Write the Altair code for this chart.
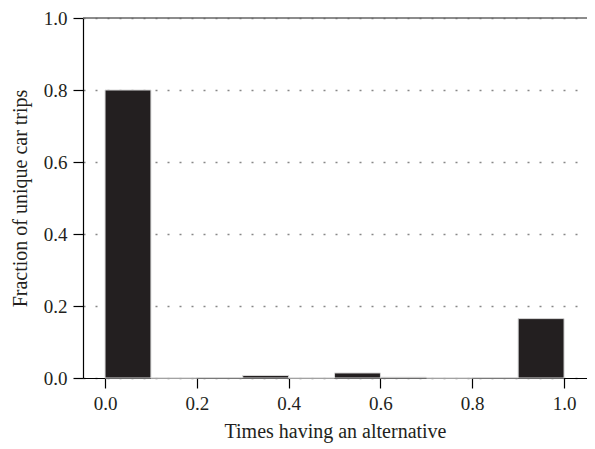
import altair as alt
import pandas as pd

bin_start = [0.0, 0.1, 0.2, 0.3, 0.4, 0.5, 0.6, 0.7, 0.8, 0.9]
bin_end = [0.1, 0.2, 0.3, 0.4, 0.5, 0.6, 0.7, 0.8, 0.9, 1.0]
fraction = [0.800, 0.0, 0.001, 0.007, 0.0, 0.014, 0.002, 0.0, 0.001, 0.165]

df = pd.DataFrame({"start": bin_start, "end": bin_end, "frac": fraction})

FONT = "Liberation Serif"

x_scale = alt.Scale(domain=[-0.048, 1.050], nice=False, zero=False)
y_scale = alt.Scale(domain=[0, 1.0], nice=False)

bars = alt.Chart(df).mark_rect(color="#231f20", stroke="#d8d8d8", strokeWidth=1).encode(
    x=alt.X("start:Q", scale=x_scale,
            axis=alt.Axis(title="Times having an alternative", values=[0, 0.2, 0.4, 0.6, 0.8, 1.0],
                          format=".1f", grid=False, tickSize=10, tickColor="black",
                          domainColor="black", labelPadding=6, titlePadding=8)),
    x2="end:Q",
    y=alt.Y("frac:Q", scale=y_scale,
            axis=alt.Axis(title="Fraction of unique car trips", values=[0, 0.2, 0.4, 0.6, 0.8, 1.0],
                          format=".1f", grid=True, gridDash=[2, 10], gridColor="#888888",
                          gridWidth=1.5, tickSize=10, tickColor="black", domainColor="black",
                          labelPadding=6, titlePadding=13)),
    y2=alt.datum(0),
)

top = alt.Chart(pd.DataFrame({"y": [1.0]})).mark_rule(color="#666666", strokeWidth=1.5).encode(
    y=alt.Y("y:Q", scale=y_scale)
)

chart = (bars + top).properties(
    width=504, height=360,
    autosize=alt.AutoSizeParams(type="none"),
    padding={"left": 75, "top": 10, "right": 0, "bottom": 65},
).configure_view(stroke=None).configure_axis(
    labelFont=FONT, titleFont=FONT, labelFontSize=19, titleFontSize=20,
    labelColor="#231f20", titleColor="#231f20", titleFontWeight="normal", domainWidth=1.2, tickWidth=1.2
)

chart.save("out.html", embed_options={"renderer": "svg", "actions": False})
